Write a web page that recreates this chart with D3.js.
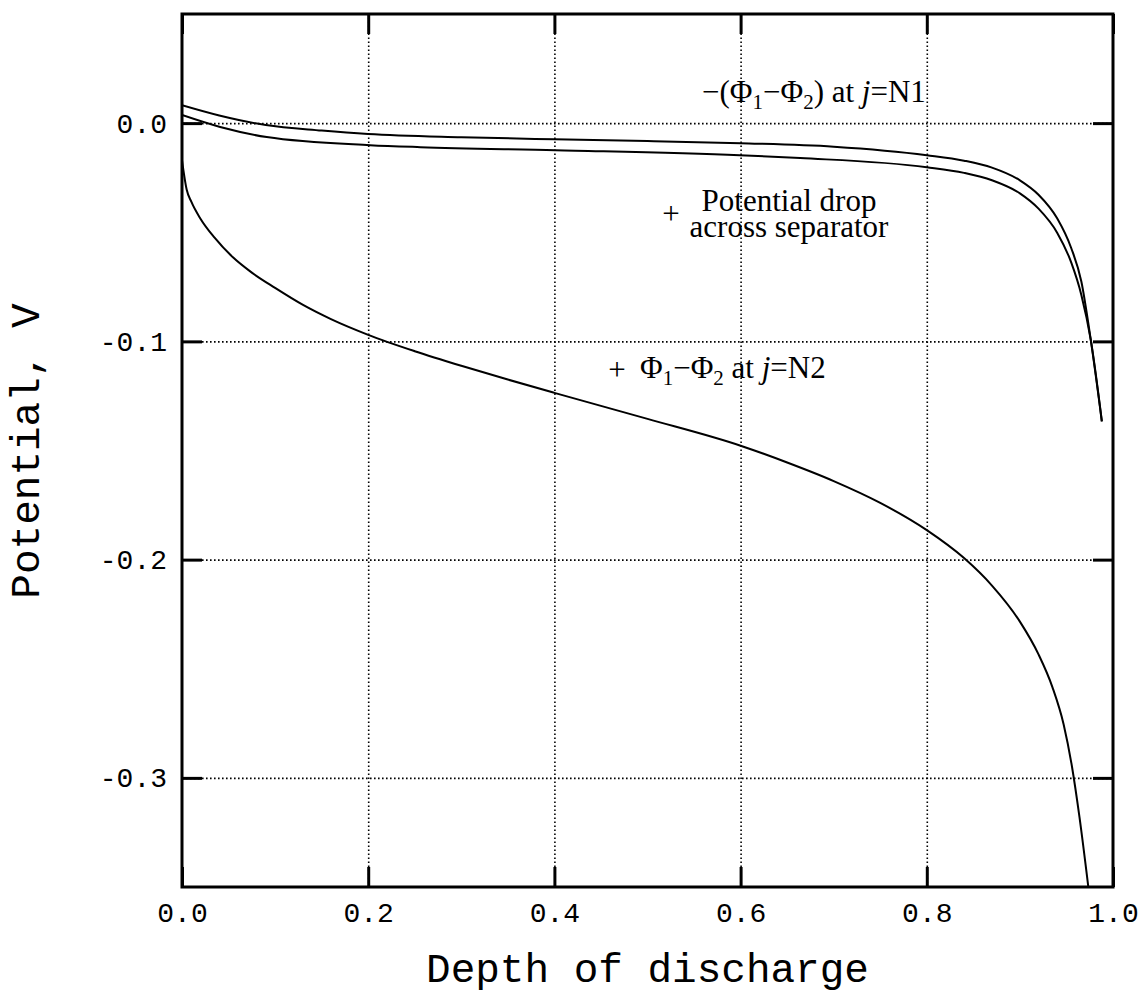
<!DOCTYPE html>
<html lang="en">
<head>
    <meta charset="UTF-8">
    <title>Potential vs Depth of discharge</title>
    <script src="https://cdnjs.cloudflare.com/ajax/libs/d3/7.8.5/d3.min.js"></script>
    <style>
        body {
            margin: 0;
            background-color: #ffffff;
        }
        .tick text {
            font-family: "Liberation Mono", "Courier New", monospace;
            font-size: 28px;
            fill: #000;
        }
        .tick line {
            stroke: #000;
            stroke-width: 3;
        }
        .domain {
            display: none;
        }
        .grid line {
            stroke: #000;
            stroke-width: 1.6;
            stroke-dasharray: 1.6, 2.4;
        }
        .curve {
            fill: none;
            stroke: #000;
            stroke-width: 2;
        }
        .title {
            font-family: "Liberation Mono", "Courier New", monospace;
            font-size: 41px;
            fill: #000;
        }
        .note {
            font-family: "Liberation Serif", "Times New Roman", serif;
            font-size: 31px;
            fill: #000;
        }
    </style>
</head>
<body>
    <div id="chart"></div>

    <script>
        // tick values
        const xTicks = [0, 0.2, 0.4, 0.6, 0.8, 1.0];
        const yTicks = [0, -0.1, -0.2, -0.3];

        // -(phi1 - phi2) at j = N1 (upper of the close pair)
        const dodN1 = [0, 0.04, 0.09, 0.15, 0.2, 0.3, 0.4, 0.5, 0.6, 0.7, 0.8, 0.84, 0.87, 0.9, 0.92, 0.94, 0.955, 0.966, 0.976, 0.988];
        const potN1 = [0.0082, 0.0035, -0.0009, -0.0034, -0.0050, -0.0065, -0.0074, -0.0082, -0.0092, -0.0108, -0.0147, -0.0172, -0.0204, -0.0262, -0.0328, -0.0436, -0.0571, -0.0726, -0.0990, -0.1366];

        // potential drop across separator (lower of the close pair)
        const dodSep = [0, 0.041, 0.091, 0.202, 0.256, 0.401, 0.599, 0.664, 0.8, 0.84, 0.87, 0.9, 0.92, 0.94, 0.955, 0.966, 0.976, 0.988];
        const potSep = [0.0037, -0.0018, -0.0064, -0.0101, -0.0110, -0.0124, -0.0147, -0.0160, -0.0202, -0.0228, -0.0262, -0.0322, -0.0392, -0.0502, -0.0637, -0.0787, -0.0990, -0.1366];

        // phi1 - phi2 at j = N2
        const dodN2 = [0, 0.005, 0.01, 0.02, 0.035, 0.055, 0.075, 0.1, 0.13, 0.16, 0.2, 0.25, 0.3, 0.35, 0.4, 0.5, 0.6, 0.65, 0.7, 0.75, 0.8, 0.84, 0.87, 0.9, 0.92, 0.935, 0.947, 0.956, 0.964, 0.9735];
        const potN2 = [-0.017, -0.0304, -0.0360, -0.0439, -0.0525, -0.0616, -0.0685, -0.0755, -0.0833, -0.0898, -0.0970, -0.1045, -0.1112, -0.1175, -0.1236, -0.1355, -0.1478, -0.1555, -0.1640, -0.1740, -0.1865, -0.1993, -0.2119, -0.2284, -0.2434, -0.2585, -0.2755, -0.2950, -0.3180, -0.3500];

        const width = 1142;
        const height = 1002;
        const margin = { top: 14, right: 29, bottom: 115, left: 182 };
        const chartWidth = width - margin.left - margin.right;
        const chartHeight = height - margin.top - margin.bottom;

        const svg = d3.select("#chart")
            .append("svg")
            .attr("width", width)
            .attr("height", height);

        const chart = svg.append("g")
            .attr("transform", `translate(${margin.left},${margin.top})`);

        const x = d3.scaleLinear().domain([0, 1]).range([0, chartWidth]);
        const y = d3.scaleLinear().domain([-0.35, 0.05]).range([chartHeight, 0]);

        chart.append("clipPath")
            .attr("id", "plot-clip")
            .append("rect")
            .attr("width", chartWidth)
            .attr("height", chartHeight);

        // dotted grid
        chart.append("g")
            .attr("class", "grid")
            .attr("transform", `translate(0,${chartHeight})`)
            .call(d3.axisBottom(x).tickValues(xTicks.slice(1, -1)).tickSize(-chartHeight).tickFormat(""));

        chart.append("g")
            .attr("class", "grid")
            .call(d3.axisLeft(y).tickValues(yTicks).tickSize(-chartWidth).tickFormat(""));

        // axes with inward ticks on all four sides
        const fmt = d => d.toFixed(1);

        chart.append("g")
            .attr("transform", `translate(0,${chartHeight})`)
            .call(d3.axisBottom(x).tickValues(xTicks).tickSize(-20).tickPadding(15).tickFormat(fmt));

        chart.append("g")
            .call(d3.axisLeft(y).tickValues(yTicks).tickSize(-20).tickPadding(15).tickFormat(fmt));

        chart.append("g")
            .call(d3.axisTop(x).tickValues(xTicks).tickSize(-20).tickFormat(""));

        chart.append("g")
            .attr("transform", `translate(${chartWidth},0)`)
            .call(d3.axisRight(y).tickValues(yTicks).tickSize(-20).tickFormat(""));

        chart.append("rect")
            .attr("width", chartWidth)
            .attr("height", chartHeight)
            .attr("fill", "none")
            .attr("stroke", "#000")
            .attr("stroke-width", 3);

        // curves
        const line = d3.line()
            .x(d => x(d[0]))
            .y(d => y(d[1]))
            .curve(d3.curveMonotoneX);

        const series = [
            d3.zip(dodN1, potN1),
            d3.zip(dodSep, potSep),
            d3.zip(dodN2, potN2)
        ];

        chart.selectAll(".curve")
            .data(series)
            .enter().append("path")
            .attr("class", "curve")
            .attr("clip-path", "url(#plot-clip)")
            .attr("d", line);

        // axis titles
        svg.append("text")
            .attr("class", "title")
            .attr("x", margin.left + chartWidth / 2)
            .attr("y", 982)
            .attr("text-anchor", "middle")
            .text("Depth of discharge");

        svg.append("text")
            .attr("class", "title")
            .attr("transform", "translate(39,451) rotate(-90)")
            .attr("text-anchor", "middle")
            .text("Potential, V");

        // annotations
        function addPhi(t, parts) {
            parts.forEach(p => {
                const s = t.append("tspan").text(p.t);
                if (p.sub) s.attr("font-size", 21).attr("dy", 7);
                if (p.up) s.attr("dy", -7);
                if (p.it) s.attr("font-style", "italic");
            });
        }

        const n1 = svg.append("text").attr("class", "note").attr("x", 702).attr("y", 102);
        addPhi(n1, [
            { t: "\u2212(\u03A6" }, { t: "1", sub: true }, { t: "\u2212\u03A6", up: true },
            { t: "2", sub: true }, { t: ") at ", up: true }, { t: "j", it: true }, { t: "=N1" }
        ]);

        svg.append("text").attr("class", "note").attr("x", 671).attr("y", 224)
            .attr("text-anchor", "middle").text("+");
        const sep = svg.append("text").attr("class", "note")
            .attr("text-anchor", "middle");
        sep.append("tspan").attr("x", 789).attr("y", 211).text("Potential drop");
        sep.append("tspan").attr("x", 789).attr("y", 237).text("across separator");

        svg.append("text").attr("class", "note").attr("x", 617).attr("y", 380)
            .attr("text-anchor", "middle").text("+");
        const n2 = svg.append("text").attr("class", "note").attr("x", 640).attr("y", 378);
        addPhi(n2, [
            { t: "\u03A6" }, { t: "1", sub: true }, { t: "\u2212\u03A6", up: true },
            { t: "2", sub: true }, { t: " at ", up: true }, { t: "j", it: true }, { t: "=N2" }
        ]);
    </script>
</body>
</html>
